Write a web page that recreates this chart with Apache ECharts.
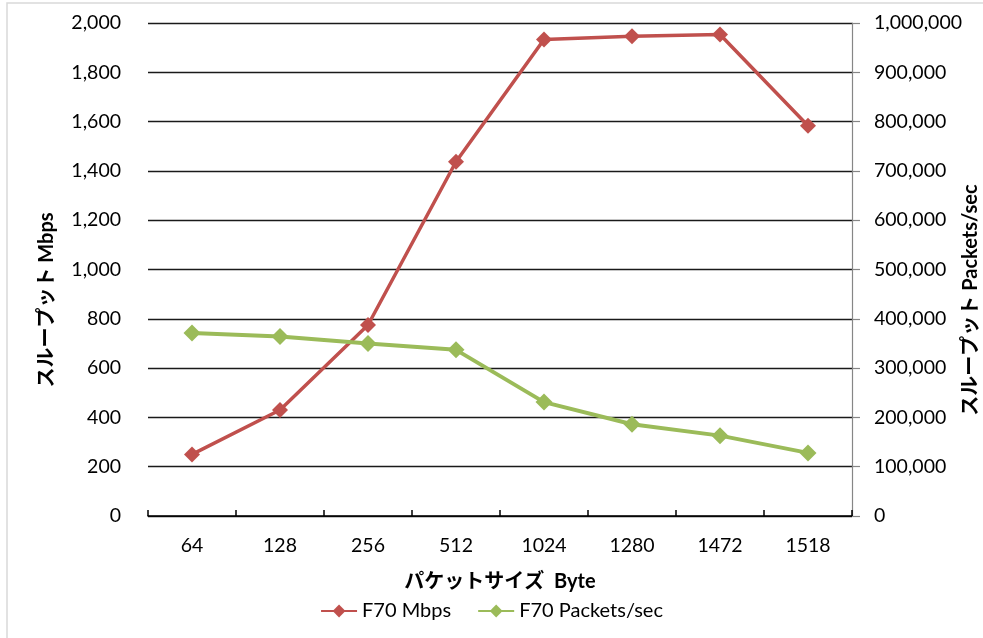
<!DOCTYPE html>
<html>
<head>
<meta charset="utf-8">
<script src="https://cdn.jsdelivr.net/npm/echarts@6/dist/echarts.min.js"></script>
<style>
html,body{margin:0;padding:0;background:#fff;}
#chart{width:983px;height:638px;}
</style>
</head>
<body>
<div id="chart"></div>
<script>
var categories = ['64', '128', '256', '512', '1024', '1280', '1472', '1518'];
var mbpsValues = [250, 430, 775, 1437, 1933, 1946, 1953, 1583];
var ppsValues = [371000, 364000, 350000, 337000, 231000, 186000, 163000, 128000];
var seriesNames = ['F70 Mbps', 'F70 Packets/sec'];
var leftTitle = 'スループット Mbps';
var rightTitle = 'スループット Packets/sec';
var xTitle = 'パケットサイズ  Byte';

var FONT = "Lato, 'Noto Sans CJK JP', sans-serif";
function fmt(v) { return Number(v).toLocaleString('en-US'); }

var chart = echarts.init(document.getElementById('chart'), null, {renderer: 'canvas'});
chart.setOption({
  animation: false,
  backgroundColor: '#fff',
  textStyle: {fontFamily: FONT},
  grid: {left: 148, right: 131, top: 23, bottom: 122, containLabel: false},
  legend: {
    data: seriesNames,
    top: 596,
    left: 'center',
    itemWidth: 36,
    itemHeight: 16,
    itemGap: 26,
    textStyle: {fontFamily: FONT, fontSize: 20, color: '#000'}
  },
  xAxis: {
    type: 'category',
    data: categories,
    boundaryGap: true,
    axisLine: {show: true, lineStyle: {color: '#000', width: 1.5}},
    axisTick: {show: true, inside: true, length: 6, alignWithLabel: false, lineStyle: {color: '#000', width: 1.5}},
    axisLabel: {margin: 20, fontFamily: FONT, fontSize: 19.5, color: '#000'},
    splitLine: {show: false}
  },
  yAxis: [
    {
      type: 'value', min: 0, max: 2000, interval: 200,
      axisLine: {show: false},
      axisTick: {show: false},
      axisLabel: {margin: 27, fontFamily: FONT, fontSize: 19.5, color: '#000', formatter: fmt},
      splitLine: {show: true, lineStyle: {color: '#1a1a1a', width: 1.4}}
    },
    {
      type: 'value', min: 0, max: 1000000, interval: 100000, position: 'right',
      axisLine: {show: true, lineStyle: {color: '#868686', width: 1.2}},
      axisTick: {show: true, inside: false, length: 8, lineStyle: {color: '#868686', width: 1.2}},
      axisLabel: {margin: 22, fontFamily: FONT, fontSize: 19.5, color: '#000', formatter: fmt},
      splitLine: {show: false}
    }
  ],
  series: [
    {
      name: seriesNames[0], type: 'line', yAxisIndex: 0, data: mbpsValues,
      symbol: 'diamond', symbolSize: 16,
      lineStyle: {color: '#C0504D', width: 3.5},
      itemStyle: {color: '#C0504D'}
    },
    {
      name: seriesNames[1], type: 'line', yAxisIndex: 1, data: ppsValues,
      symbol: 'diamond', symbolSize: 17,
      lineStyle: {color: '#9BBB59', width: 4},
      itemStyle: {color: '#9BBB59'}
    }
  ],
  graphic: [
    {type: 'rect', shape: {x: 7, y: 3, width: 1000, height: 700}, style: {fill: 'none', stroke: '#d9d9d9', lineWidth: 1.5}, silent: true, z: -1},
    {type: 'text', x: 47, y: 300, rotation: Math.PI / 2,
     style: {text: leftTitle, fontFamily: FONT, fontSize: 20, fontWeight: 'bold', fill: '#000', textAlign: 'center', textVerticalAlign: 'middle'}},
    {type: 'text', x: 971, y: 300, rotation: Math.PI / 2,
     style: {text: rightTitle, fontFamily: FONT, fontSize: 20, fontWeight: 'bold', fill: '#000', textAlign: 'center', textVerticalAlign: 'middle'}},
    {type: 'text', x: 500, y: 582,
     style: {text: xTitle, fontFamily: FONT, fontSize: 20, fontWeight: 'bold', fill: '#000', textAlign: 'center', textVerticalAlign: 'middle'}}
  ]
});
</script>
</body>
</html>
